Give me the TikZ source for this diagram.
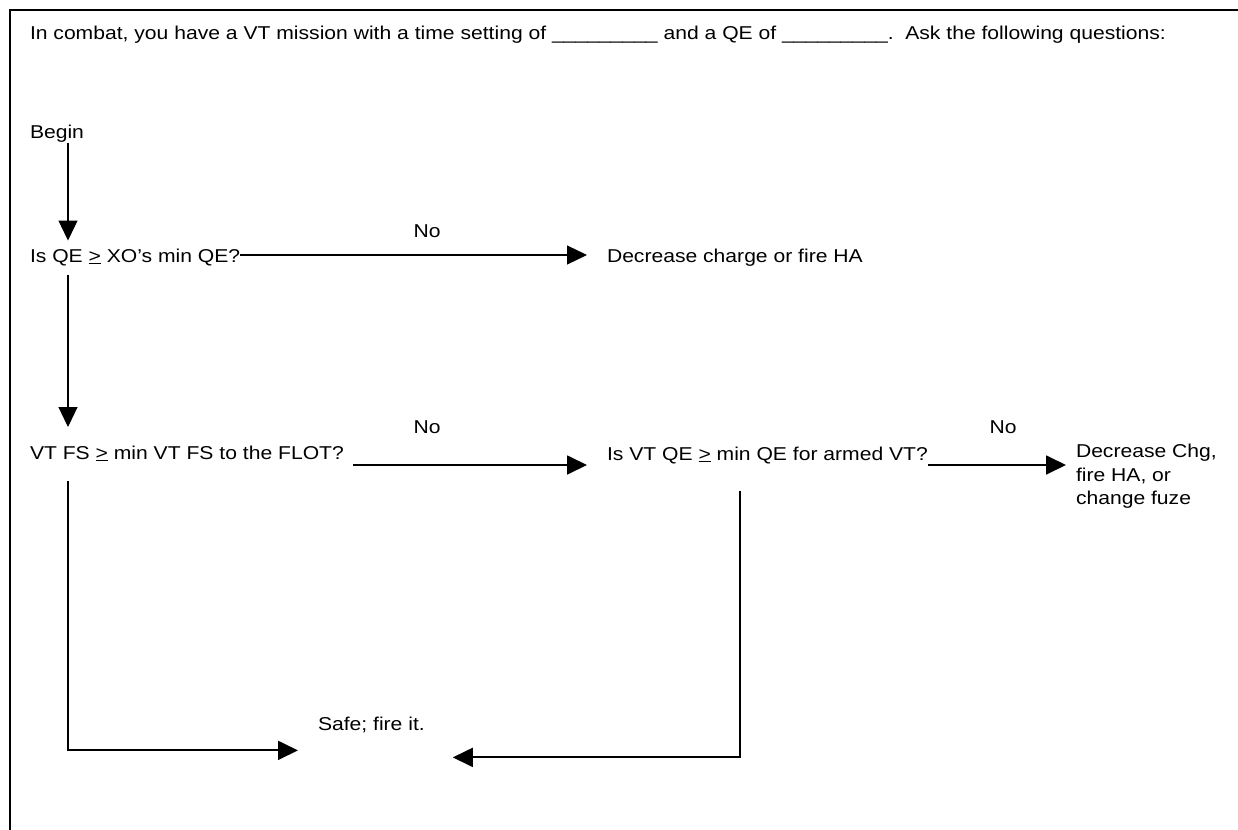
\documentclass[tikz,border=0pt]{standalone}
\usepackage{fontspec}
\setmainfont{Liberation Sans}[FakeStretch=1.135]
\usetikzlibrary{arrows.meta,calc}
\begin{document}
\begin{tikzpicture}[x=1pt,y=1pt,
  txt/.style={inner sep=0pt,outer sep=0pt,anchor=base west,font=\fontsize{18.6}{23.5}\selectfont},
  lbl/.style={inner sep=0pt,outer sep=0pt,anchor=base,font=\fontsize{18.6}{23.5}\selectfont},
  thinarrow/.style={line width=1.2pt,-{Triangle[length=20pt,width=19pt]}},
  thickarrow/.style={line width=1.8pt,-{Triangle[length=20pt,width=19pt]}},
  frame/.style={line width=2.2pt}]
\useasboundingbox (0,0) rectangle (1238,-829);
\draw[frame] (1240,-10) -- (10,-10) -- (10,-831);
\coordinate (colA) at (68,0);
\coordinate (colB) at (740,0);
\coordinate (rowA) at (0,-255);
\coordinate (rowB) at (0,-465);
\node[txt] (title) at (30,-40) {In combat, you have a VT mission with a time setting of \_\_\_\_\_\_\_\_\_ and a QE of \_\_\_\_\_\_\_\_\_.\ \ Ask the following questions:};
\node[txt] (begin) at (30,-139) {Begin};
\node[txt] (q1) at (30,-262) {Is QE \underline{>} XO’s min QE?};
\node[txt] (dec1) at (607,-262) {Decrease charge or fire HA};
\node[lbl] (no1) at (427,-237) {No};
\node[txt] (q2) at (30,-459) {VT FS \underline{>} min VT FS to the FLOT?};
\node[txt] (q3) at (607,-460) {Is VT QE \underline{>} min QE for armed VT?};
\node[lbl] (no2) at (427,-433) {No};
\node[lbl] (no3) at (1003,-433) {No};
\node[inner sep=0pt,outer sep=0pt,anchor=north west,align=left,font=\fontsize{18.6}{23.5}\selectfont] (dec2) at (1076,-444.5) {Decrease Chg,\\fire HA, or\\change fuze};
\node[txt] (safe) at (318,-730) {Safe; fire it.};
\draw[thinarrow] (begin.south -| colA) -- ([yshift=8pt]q1.north -| colA);
\draw[thinarrow] (q1.east |- rowA) -- ([xshift=-20pt]dec1.west |- rowA);
\draw[thinarrow] ([yshift=-9pt]q1.south -| colA) -- ([yshift=18.5pt]q2.north -| colA);
\draw[thickarrow] ([xshift=9pt]q2.east |- rowB) -- ([xshift=-20pt]q3.west |- rowB);
\draw[thickarrow] (q3.east |- rowB) -- ([xshift=-10pt]dec2.west |- rowB);
\draw[thickarrow] ([yshift=-20pt]q2.south -| colA) |- ([xshift=-20pt,yshift=-18pt]safe.south west);
\draw[thickarrow] ([yshift=-27pt]q3.south -| colB) |- ([xshift=28pt,yshift=-25pt]safe.south east);
\end{tikzpicture}
\end{document}
